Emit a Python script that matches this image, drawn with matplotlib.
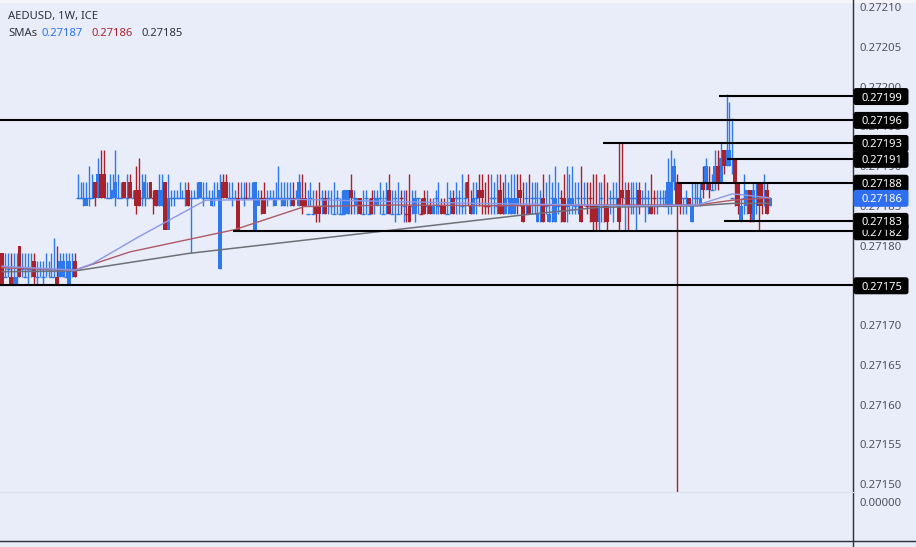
import matplotlib
matplotlib.use("Agg")
import matplotlib.pyplot as plt
import numpy as np
from matplotlib.patches import FancyBboxPatch, Rectangle
from matplotlib.lines import Line2D
from matplotlib.transforms import IdentityTransform

# all prices are in units of 0.00001 above 0.27000
highs = [
    179, 179, 179, 179, 179, 179, 180, 179, 179, 179, 179, 179, 178,
    178, 178, 179, 178, 179, 181, 180, 179, 179, 179, 179, 179, 179,
    189, 188, 188, 188, 190, 189, 188, 191, 192, 192,
    188, 189, 189, 192, 189, 188, 188, 189, 189, 187,
    190, 191, 189, 189, 188, 188, 187, 187, 189, 189,
    188, 189, 187, 187, 187, 188, 187, 188, 188, 187,
    187, 188, 188, 188, 188, 187, 187, 188, 188, 189,
    189, 189, 188, 188, 187, 188, 188, 188, 188, 188,
    188, 188, 187, 187, 188, 187, 187, 187, 188, 190,
    188, 188, 188, 188, 188, 187, 189, 189, 188, 187,
    188, 187, 187, 188, 187, 187, 187, 187, 188, 187,
    186, 187, 187, 187, 189, 187, 186, 186, 187, 187,
    186, 187, 187, 187, 188, 187, 188, 189, 187, 187,
    188, 187, 187, 187, 189, 187, 187, 186, 186, 187,
    187, 186, 186, 187,
    188, 186, 186, 188, 187, 187, 188, 187, 189, 188,
    189, 187, 188, 188, 189, 189, 188, 189, 189, 188,
    189, 189, 188, 189, 188, 189, 189, 189, 189, 188,
    188, 189, 188, 188, 188, 187, 189, 188, 189, 188,
    190, 188, 187, 189, 190, 189, 190, 188, 188, 190,
    188, 188, 188, 189, 189, 188, 188, 189, 188, 187,
    188, 188, 193, 193, 188, 188, 188, 188, 188, 188,
    187, 188, 187, 189, 187, 187, 187, 187, 187, 191,
    192, 191, 189, 187, 186, 187, 186, 188, 188, 188,
    188, 190, 191, 190, 189, 192, 192, 193, 192, 199,
    198, 196, 191, 188, 186, 189, 187, 187, 188, 188,
    188, 188, 189, 188, 186,
]
lows = [
    175, 176, 176, 175, 175, 175, 176, 176, 176, 175, 176, 175, 175,
    176, 175, 176, 176, 176, 176, 175, 176, 176, 176, 175, 176, 176,
    186, 186, 185, 186, 185, 186, 185, 186, 186, 186,
    186, 186, 186, 185, 186, 186, 186, 185, 186, 186,
    184, 185, 185, 185, 186, 186, 184, 185, 185, 185,
    186, 186, 185, 185, 186, 186, 186, 185, 185, 179,
    186, 186, 186, 185, 186, 186, 185, 185, 186, 177,
    186, 186, 186, 185, 186, 185, 186, 185, 186, 186,
    186, 185, 186, 184, 186, 185, 186, 185, 186, 186,
    185, 185, 185, 185, 185, 186, 185, 184, 185, 185,
    185, 184, 183, 183, 184, 184, 184, 184, 184, 184,
    184, 184, 184, 184, 184, 184, 184, 184, 184, 184,
    184, 184, 184, 185, 184, 184, 184, 184, 184, 183,
    184, 184, 183, 183, 183, 184, 183, 184, 184, 184,
    184, 184, 184, 184, 184, 184, 184, 184, 184, 184,
    184, 184, 184, 184, 185, 184, 184, 184, 185, 184,
    184, 184, 184, 184, 184, 184, 184, 184, 184, 184,
    184, 184, 185, 183, 184, 184, 184, 184, 183, 183,
    183, 184, 183, 183, 183, 184, 183, 183, 183, 184,
    184, 184, 184, 183, 185, 184, 183, 182, 182, 182,
    183, 183, 182, 184, 183, 185, 182, 185, 182, 182,
    184, 184, 182, 184, 185, 183, 184, 184, 184, 184,
    185, 185, 185, 184, 184, 187, 149, 184, 184, 184,
    185, 183, 185, 185, 185, 186, 187, 186, 187, 187,
    187, 188, 189, 190, 190, 189, 185, 184, 183, 184,
    184, 183, 183, 184, 182, 184, 185, 184, 185,
]
doji_levels = [
    177, 176, 177, 176, 177, 177, 176, 177, 176, 177, 177, 176, 176,
    177, 176, 177, 177, 176, 177, 176, 177, 177, 176, 177, 177, 177,
] + [186] * 79 + [
    184, 186, 184, 186, 184, 186, 184, 186, 185, 184,
    186, 184, 184, 186, 184, 186, 186, 184, 186, 184,
    186, 184, 186, 186, 184, 186, 184, 186, 186, 184,
    186, 184, 186, 185, 184, 186, 185, 184, 186, 184,
    186, 185, 186, 184, 186, 185, 186, 186, 184, 186,
    185, 186, 186, 185, 186, 186, 186, 185, 186, 186,
    186, 185, 185, 186, 186, 185, 186, 186, 185, 186,
    186, 185, 186, 186, 185, 186, 185, 186, 186, 185,
    186, 186, 185, 186, 186, 186, 185, 186, 186, 185,
    186, 186, 185, 186, 186, 186, 185, 186, 186, 185,
    186, 186, 185, 186, 186, 186, 186, 186, 186, 186,
    186, 186, 186, 186, 186, 186, 186, 186, 186, 186,
    185, 186, 186, 185, 186, 186, 186, 185, 186, 186,
    186, 186, 186, 186, 186, 186, 186, 187, 187, 187,
    187, 187, 186, 187, 186, 187, 186, 186, 187, 186,
    186, 186, 187, 186, 186, 187, 186, 186, 186, 186,
]

red_candle = [0, 3, 6, 11, 19, 25, 32, 34, 35, 42, 44, 46, 47, 51, 53, 56, 64, 76, 77, 81,
              90, 100, 103, 104, 108, 109, 111, 120, 123, 127, 133, 140, 145, 147, 151, 152,
              155, 160, 161, 164, 165, 171, 172, 178, 179, 181, 186, 193, 199, 203, 204,
              208, 212, 213, 215, 219, 223, 232, 233, 236, 241, 243, 246, 248, 252, 253,
              257, 260, 261, 263]
red_open = [179, 176, 180, 178, 176, 178, 188, 189, 189, 188, 188, 187, 187, 188, 187, 188, 187, 188, 188, 186,
            186, 186, 186, 186, 185, 185, 186, 187, 186, 186, 187, 185, 186, 185, 185, 185,
            186, 188, 185, 187, 187, 187, 185, 187, 185, 185, 186, 186, 185, 185, 185,
            185, 186, 187, 187, 187, 185, 188, 188, 186, 188, 188, 190, 192, 191, 188,
            187, 188, 188, 187]
red_close = [175, 175, 176, 176, 175, 176, 186, 186, 186, 186, 186, 185, 185, 186, 185, 182, 185, 186, 186, 182,
             184, 185, 185, 185, 184, 184, 184, 186, 184, 184, 184, 183, 184, 184, 184, 184,
             184, 186, 184, 186, 186, 184, 184, 186, 183, 184, 183, 183, 183, 183, 183,
             183, 183, 186, 185, 185, 184, 185, 185, 185, 187, 187, 188, 190, 188, 185,
             184, 185, 185, 184]

blue_candle = [4, 5, 20, 21, 23, 29, 33, 38, 39, 49, 54, 55, 57, 68, 72, 75, 87, 88, 94, 97,
               102, 118, 119, 122, 129, 142, 148, 162, 173, 175, 176, 177, 184, 188, 190,
               195, 196, 205, 229, 230, 231, 237, 240, 242, 245, 247, 249, 250, 254, 256,
               258, 264]
blue_open = [175, 175, 176, 176, 175, 185, 186, 186, 186, 186, 185, 185, 182, 186, 185, 177, 182, 185, 185, 185,
             185, 184, 184, 185, 185, 184, 184, 184, 184, 184, 184, 185, 183, 183, 183,
             185, 185, 183, 185, 185, 188, 183, 185, 188, 188, 188, 190, 190, 183, 185,
             183, 185]
blue_close = [176, 176, 178, 178, 178, 186, 189, 187, 188, 188, 187, 187, 186, 188, 186, 187, 188, 186, 186, 186,
              188, 187, 187, 186, 186, 186, 185, 186, 186, 186, 186, 186, 184, 184, 186,
              186, 186, 185, 188, 188, 190, 185, 186, 190, 190, 191, 192, 192, 185, 187,
              187, 186]

# thin candles that are red but have no visible body
red_wick_candle = [52, 84, 89, 137, 139, 144, 166, 167, 177, 192, 201, 202, 207, 224]

sma_fast_x = [0, 25, 31, 47, 70, 102, 164, 218, 239, 251, 264]
sma_fast = [177.4, 176.9, 177.7, 181.1, 185.7, 185.8, 185.3, 185.0, 185.1, 186.5, 186.0]
sma_mid_x = [0, 25, 44, 80, 104, 136, 171, 205, 239, 251, 264]
sma_mid = [177.2, 176.9, 179.2, 182.0, 184.9, 185.1, 185.0, 185.1, 185.1, 185.7, 186.0]
sma_slow_x = [0, 25, 64, 126, 178, 205, 239, 251, 264]
sma_slow = [176.7, 176.8, 179.0, 181.6, 183.8, 184.8, 185.0, 185.3, 185.3]

# drawn levels: price, first candle (None = from the left edge), label
level_price = [198.8, 195.8, 192.9, 190.9, 187.9, 183.1, 181.8, 175.0]
level_start = [246.4, None, 206.5, 249, 232, 248, 79.4, None]
level_label = ["0.27199", "0.27196", "0.27193", "0.27191", "0.27188", "0.27183", "0.27182", "0.27175"]
last_price = 186.0

axis_ticks = [150, 155, 160, 165, 170, 175, 180, 185, 190, 195, 200, 205, 210]

BG = "#e9edf9"
BLUE = "#2f78ec"
RED = "#a8222e"
GREY_TEXT = "#50535e"
FONT = "Noto Sans"
BASE = 0.27
UNIT = 1e-5


def price(u):
    return BASE + np.asarray(u, dtype=float) * UNIT


W, H = 916, 547
fig = plt.figure(figsize=(W / 100, H / 100), dpi=100, facecolor=BG)
ax = fig.add_axes([0, (H - 492) / H, 853 / W, 492 / H], facecolor=BG)
low_ax = fig.add_axes([0, (H - 540) / H, 853 / W, 48 / H], facecolor=BG)

STEP = 2.91
ax.set_xlim(-2 / STEP, 851 / STEP)
ax.set_ylim(price(149.0), price(210.88))

x = np.arange(len(highs))
is_red = np.zeros(len(highs), dtype=bool)
is_red[red_candle] = True
is_red[red_wick_candle] = True
has_body = np.zeros(len(highs), dtype=bool)
has_body[red_candle] = True
has_body[blue_candle] = True

wick_colors = [RED if r else BLUE for r in is_red]
ax.vlines(x, price(lows), price(highs), colors=wick_colors, linewidth=1.0, zorder=2)

no_body = ~has_body
ax.hlines(price(doji_levels)[no_body], x[no_body] - 0.7, x[no_body] + 0.7,
          colors=np.array(wick_colors)[no_body], linewidth=1.0, zorder=2)

for idx, o, c, color in ((blue_candle, blue_open, blue_close, BLUE),
                         (red_candle, red_open, red_close, RED)):
    o = price(o)
    c = price(c)
    ax.bar(idx, c - o, bottom=o, width=1.3, color=color, linewidth=0, zorder=3)

ax.plot(sma_slow_x, price(sma_slow), color="#6f7078", lw=1.1, zorder=4)
ax.plot(sma_mid_x, price(sma_mid), color="#ad5a66", lw=1.0, zorder=4)
ax.plot(sma_fast_x, price(sma_fast), color="#8c97ea", lw=1.0, zorder=4)

x_left, x_right = ax.get_xlim()
for p, start in zip(level_price, level_start):
    ax.hlines(price(p), x_left if start is None else start, x_right,
              color="black", linewidth=1.5, zorder=5)

ax.set_xticks([])
ax.yaxis.tick_right()
ax.set_yticks(price(axis_ticks))
ax.set_yticklabels([f"{price(t):.5f}" for t in axis_ticks], fontfamily=FONT, fontsize=8.2, color=GREY_TEXT)
ax.tick_params(axis="y", length=0, pad=5)
for s in ax.spines.values():
    s.set_visible(False)

low_ax.set_xlim(x_left, x_right)
low_ax.set_ylim(-4, 1)
low_ax.set_xticks([])
low_ax.yaxis.tick_right()
low_ax.set_yticks([0])
low_ax.set_yticklabels(["0.00000"], fontfamily=FONT, fontsize=8.2, color=GREY_TEXT)
low_ax.tick_params(axis="y", length=0, pad=5)
for s in low_ax.spines.values():
    s.set_visible(False)

# pane borders, in figure pixels
fig.add_artist(Rectangle((0, 1 - 3 / H), 1, 3 / H, transform=fig.transFigure, facecolor="#f3f5fb",
                         edgecolor="none", zorder=1))
fig.add_artist(Line2D([853 / W, 853 / W], [0, 1], color="#2a2e39", lw=1.0, zorder=2))
fig.add_artist(Line2D([0, 1], [(H - 540.5) / H] * 2, color="#2a2e39", lw=1.0, zorder=2))
fig.add_artist(Line2D([0, 853 / W], [(H - 492) / H] * 2, color="#dbe0ee", lw=0.8, zorder=2))


def price_tag(level, text, color, zorder, dy=0):
    y = ax.transData.transform((0, price(level)))[1] + dy
    box = FancyBboxPatch((853.5, y - 8.5), 55, 17, boxstyle="round,pad=0,rounding_size=2.5",
                         transform=IdentityTransform(), facecolor=color, edgecolor="none", zorder=zorder)
    fig.add_artist(box)
    fig.text(861 / W, y / H, text, color="white", fontfamily=FONT, fontsize=8.0, fontweight="bold",
             ha="left", va="center_baseline", zorder=zorder + 0.1)


# 0.27182 goes first so the 0.27183 box covers the top of it
order = [6] + [i for i in range(len(level_price)) if i != 6]
for n, i in enumerate(order):
    price_tag(level_price[i], level_label[i], "black", 10 + n, dy=-0.5)
price_tag(last_price, "0.27186", "#2e6ff2", 30, dy=-0.5)

fig.text(8 / W, 1 - 17 / H, "AEDUSD, 1W, ICE", fontfamily=FONT, fontsize=8.1, color="#2f323c", va="center")
fig.text(8 / W, 1 - 34 / H, "SMAs", fontfamily=FONT, fontsize=8.1, color="#2f323c", va="center")
fig.text(42 / W, 1 - 34 / H, "0.27187", fontfamily=FONT, fontsize=8.1, color="#2e6ff2", va="center")
fig.text(91 / W, 1 - 34 / H, "0.27186", fontfamily=FONT, fontsize=8.1, color="#a8252f", va="center")
fig.text(141 / W, 1 - 34 / H, "0.27185", fontfamily=FONT, fontsize=8.1, color="#2f323c", va="center")

fig.savefig("out.png", dpi=100, facecolor=fig.get_facecolor())
